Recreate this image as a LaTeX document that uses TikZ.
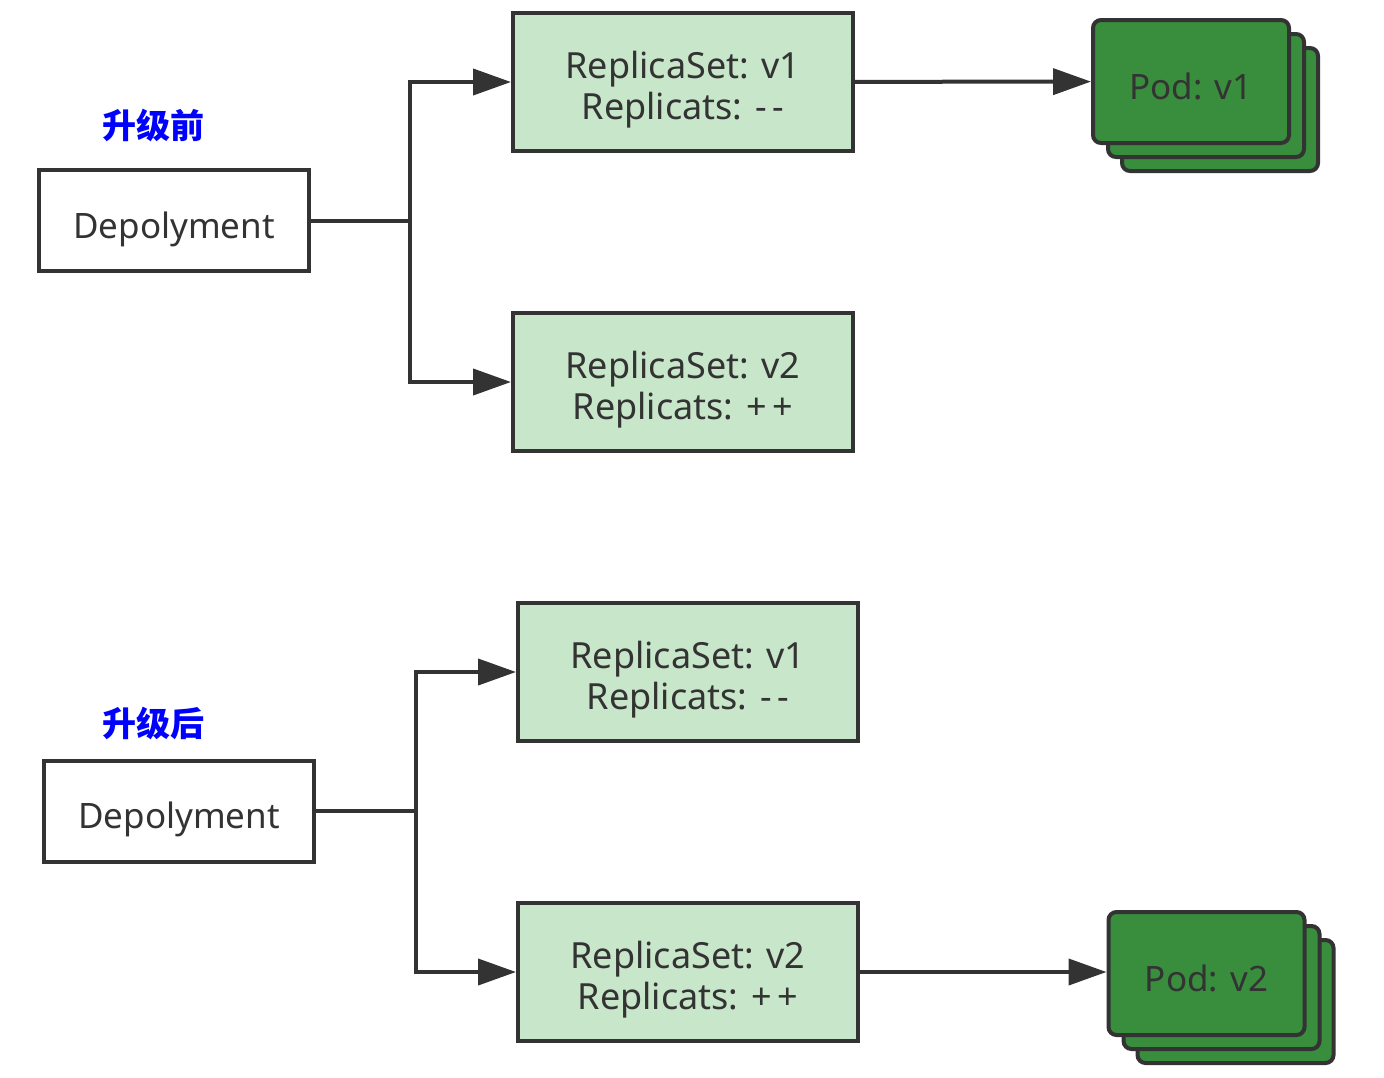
\documentclass[tikz,border=0pt]{standalone}
\usepackage{fontspec}
\setmainfont{Noto Sans}
\newfontfamily\cjk{Noto Sans CJK SC}
\usetikzlibrary{arrows.meta}
\definecolor{linegray}{HTML}{333333}
\definecolor{rsgreen}{HTML}{C8E6C9}
\definecolor{podgreen}{HTML}{388E3C}
\tikzstyle{deploy}=[draw=linegray,line width=4pt,fill=white,minimum width=270pt,minimum height=101pt,inner sep=0pt,font=\fontsize{35}{41}\selectfont,text=linegray,text height=35pt,text depth=0pt]
\tikzstyle{rset}=[draw=linegray,line width=4pt,fill=rsgreen,minimum width=340pt,minimum height=138pt,inner sep=0pt,align=center,font=\fontsize{36}{41}\selectfont,text=linegray,text height=74pt,text depth=0pt]
\tikzstyle{pod}=[draw=linegray,line width=4pt,fill=podgreen,rounded corners=8pt,minimum width=196pt,minimum height=123pt,inner sep=0pt,font=\fontsize{35}{41}\selectfont,text=linegray,text height=35pt,text depth=0pt]
\tikzstyle{stage}=[font=\cjk\bfseries\fontsize{34}{40}\selectfont,text=blue]
\tikzstyle{edge}=[draw=linegray,line width=4pt]
\tikzstyle{flow}=[draw=linegray,line width=4pt,-{Triangle[length=38pt,width=26pt]}]

\begin{document}
\begin{tikzpicture}[x=1pt,y=-1pt]
    \useasboundingbox (0,0) rectangle (1384,1077);
    % avant / apres
    \node[stage] (before) at (153,125) {升级前};
    \node[stage] (after) at (153,723) {升级后};
    \node[deploy] (dep1) at (174,220.5) {Depolyment};
    \node[deploy] (dep2) at (179,811) {Depolyment};
    % replicasets
    \foreach \pos/\name/\ver/\cnt in {{(683,82)/rs1a/v1/-\,-}, {(683,382)/rs1b/v2/+\,+}, {(688,672)/rs2a/v1/-\,-}, {(688,972)/rs2b/v2/+\,+}}
        \node[rset] (\name) at \pos {ReplicaSet: \ver\\Replicats: \cnt};
    % pods
    \foreach \px/\py/\name/\ver in {1191/81.5/pod1/v1, 1206.5/973.5/pod2/v2}{
        \node[pod] (\name c) at (\px+29,\py+28) {};
        \node[pod] (\name b) at (\px+15,\py+14) {};
        \node[pod] (\name) at (\px,\py) {Pod: \ver};
    }
    % fourches
    \coordinate (fork1) at (410,220.5);
    \coordinate (fork2) at (416,811);
    \path[edge] (dep1) -- (fork1);
    \path[edge] (dep2) -- (fork2);
    \foreach \source/\dest in {fork1/rs1a, fork1/rs1b, fork2/rs2a, fork2/rs2b}
        \path[flow] (\source) |- (\dest);
    \path[flow] (rs1a) -- (pod1);
    \path[flow] (rs2b.east) -- (pod2.west |- rs2b.east);
\end{tikzpicture}
\end{document}
